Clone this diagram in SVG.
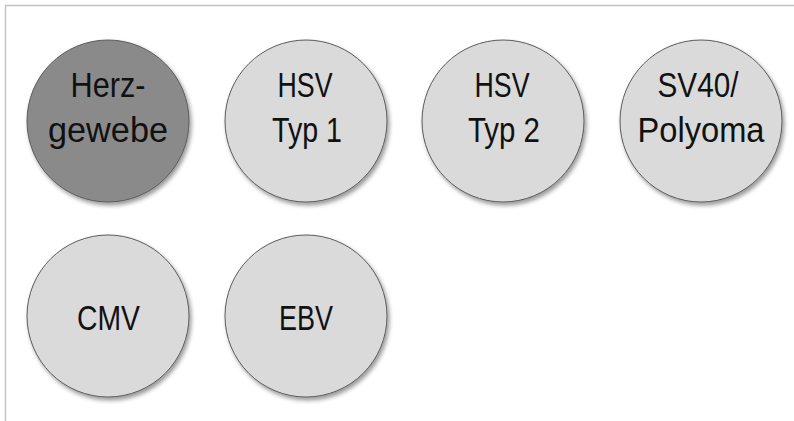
<svg xmlns="http://www.w3.org/2000/svg" width="794" height="421" viewBox="0 0 794 421">
<defs>
<filter id="sh" x="-20%" y="-20%" width="140%" height="140%">
<feDropShadow dx="2" dy="3" stdDeviation="2" flood-color="#000" flood-opacity="0.4"/>
</filter>
<style>
.c{fill:#dadada;stroke:#5a5a5a;stroke-width:1;filter:url(#sh)}
.d{fill:#8a8a8a}
.t{font-family:"Liberation Sans",Arial,sans-serif;font-size:35px;fill:#111;text-anchor:middle}
.frame{stroke:#c4c4c4;stroke-width:1.5;fill:none}
</style>
</defs>
<rect width="794" height="421" fill="#fff"/>
<path class="frame" d="M5.5 421 V5.5 H794"/>
<g id="connectors"/>
<g id="herzgewebe">
<circle class="c d" cx="108" cy="121" r="81"/>
<text class="t" x="108" y="97" textLength="75" lengthAdjust="spacingAndGlyphs">Herz-</text>
<text class="t" x="108" y="142" textLength="120" lengthAdjust="spacingAndGlyphs">gewebe</text>
</g>
<g id="hsv1">
<circle class="c" cx="306" cy="121" r="81"/>
<text class="t" x="305" y="97" textLength="55" lengthAdjust="spacingAndGlyphs">HSV</text>
<text class="t" x="307" y="142" textLength="70" lengthAdjust="spacingAndGlyphs">Typ 1</text>
</g>
<g id="hsv2">
<circle class="c" cx="503" cy="121" r="81"/>
<text class="t" x="502" y="97" textLength="55" lengthAdjust="spacingAndGlyphs">HSV</text>
<text class="t" x="504" y="142" textLength="72" lengthAdjust="spacingAndGlyphs">Typ 2</text>
</g>
<g id="sv40">
<circle class="c" cx="701" cy="121" r="81"/>
<text class="t" x="698" y="97" textLength="81" lengthAdjust="spacingAndGlyphs">SV40/</text>
<text class="t" x="701" y="142" textLength="127" lengthAdjust="spacingAndGlyphs">Polyoma</text>
</g>
<g id="cmv">
<circle class="c" cx="108" cy="316" r="81"/>
<text class="t" x="108.5" y="330" textLength="63" lengthAdjust="spacingAndGlyphs">CMV</text>
</g>
<g id="ebv">
<circle class="c" cx="306" cy="316" r="81"/>
<text class="t" x="306" y="330" textLength="54" lengthAdjust="spacingAndGlyphs">EBV</text>
</g>
</svg>
